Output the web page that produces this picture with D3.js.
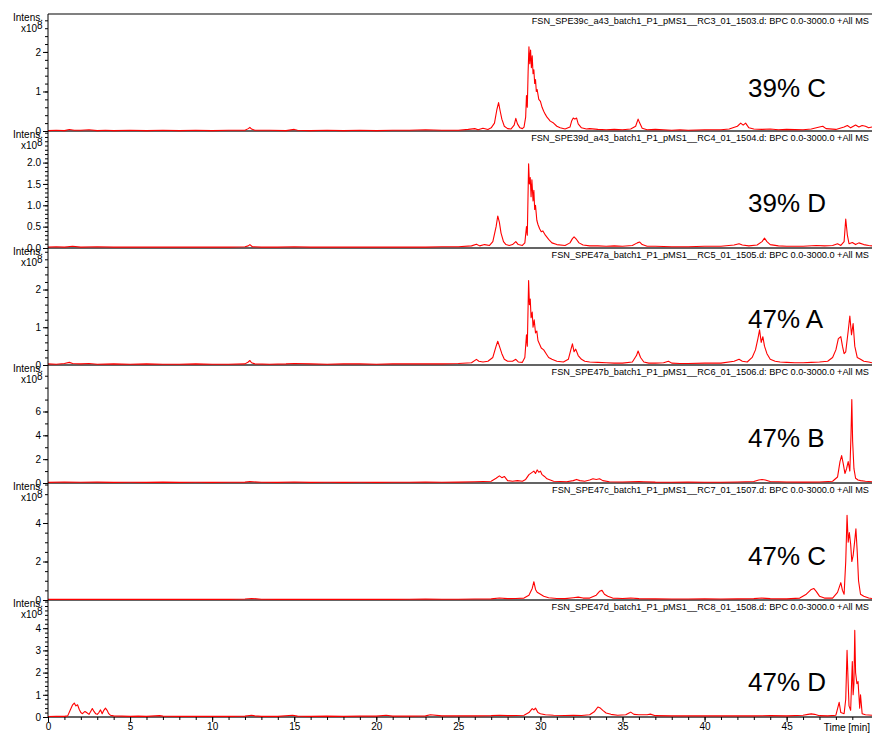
<!DOCTYPE html>
<html>
<head>
<meta charset="utf-8">
<script src="https://cdn.jsdelivr.net/npm/d3@7"></script>
<style>
  html, body { margin: 0; padding: 0; background: #fff; }
  svg { display: block; font-family: "Liberation Sans", Arial, sans-serif; }
</style>
</head>
<body>
<svg id="chart" width="872" height="733"></svg>
<script>
// ---------- DATA ----------
const fileTitles = [
  "FSN_SPE39c_a43_batch1_P1_pMS1__RC3_01_1503.d: BPC 0.0-3000.0 +All MS",
  "FSN_SPE39d_a43_batch1_P1_pMS1__RC4_01_1504.d: BPC 0.0-3000.0 +All MS",
  "FSN_SPE47a_batch1_P1_pMS1__RC5_01_1505.d: BPC 0.0-3000.0 +All MS",
  "FSN_SPE47b_batch1_P1_pMS1__RC6_01_1506.d: BPC 0.0-3000.0 +All MS",
  "FSN_SPE47c_batch1_P1_pMS1__RC7_01_1507.d: BPC 0.0-3000.0 +All MS",
  "FSN_SPE47d_batch1_P1_pMS1__RC8_01_1508.d: BPC 0.0-3000.0 +All MS"
];
const sampleLabels = ["39% C", "39% D", "47% A", "47% B", "47% C", "47% D"];
// intensity axis (x10^8)
const yMax = [2.96, 2.74, 3.1, 9.9, 6.08, 5.27];
const yMajorTicks = [[0,1,2],[0,0.5,1.0,1.5,2.0],[0,1,2],[0,2,4,6],[0,2,4],[0,1,2,3,4]];
const yMinorStep = [0.2, 0.1, 0.2, 1, 0.5, 0.2];
const xTicksMajor = [0,5,10,15,20,25,30,35,40,45];
const timeMax = 50.2;

// traces: [time (min), intensity (x10^8)]
const trace39C = [[0,0.01],[0.5,0.02],[1,0.01],[1.3,0.04],[1.6,0.02],[2,0.02],[2.5,0.03],[3,0.01],[3.5,0.02],[4,0.01],[5,0.02],[6,0.01],[7,0.02],[8,0.01],[9,0.02],[10,0.01],[11,0.02],[12,0.02],[12.2,0.06],[12.3,0.09],[12.4,0.05],[12.6,0.02],[13.5,0.02],[14.5,0.01],[15,0.04],[15.2,0.02],[16,0.01],[17,0.02],[18,0.01],[19,0.02],[20,0.01],[21,0.02],[22,0.02],[23,0.03],[24,0.02],[25,0.02],[25.6,0.04],[26,0.06],[26.2,0.03],[26.5,0.07],[26.8,0.04],[27,0.08],[27.2,0.2],[27.35,0.55],[27.45,0.72],[27.55,0.5],[27.65,0.3],[27.8,0.12],[28,0.06],[28.2,0.05],[28.4,0.15],[28.5,0.32],[28.6,0.18],[28.75,0.08],[28.9,0.06],[29,0.1],[29.1,0.35],[29.15,0.9],[29.2,0.6],[29.25,1.5],[29.3,2.13],[29.35,1.7],[29.4,2.05],[29.45,1.6],[29.5,1.9],[29.55,1.45],[29.6,1.55],[29.65,1.2],[29.7,1.3],[29.75,1.0],[29.8,1.05],[29.9,0.8],[30,0.75],[30.1,0.6],[30.2,0.5],[30.3,0.42],[30.4,0.35],[30.5,0.3],[30.6,0.25],[30.8,0.2],[31,0.12],[31.2,0.08],[31.5,0.05],[31.8,0.1],[31.9,0.25],[32,0.33],[32.1,0.3],[32.2,0.33],[32.3,0.18],[32.5,0.08],[32.8,0.05],[33,0.06],[33.5,0.04],[34,0.03],[34.5,0.04],[35,0.03],[35.5,0.05],[35.8,0.12],[35.95,0.3],[36.05,0.2],[36.2,0.07],[36.5,0.03],[37,0.04],[37.5,0.03],[38,0.02],[38.5,0.03],[39,0.02],[40,0.03],[41,0.03],[41.5,0.05],[42,0.12],[42.2,0.2],[42.35,0.15],[42.5,0.2],[42.7,0.08],[43,0.05],[43.5,0.04],[44,0.05],[44.5,0.03],[45,0.04],[46,0.03],[46.5,0.05],[47,0.1],[47.2,0.12],[47.4,0.06],[48,0.04],[48.5,0.1],[48.7,0.14],[48.9,0.08],[49.2,0.15],[49.4,0.1],[49.6,0.14],[49.8,0.12],[50,0.08],[50.2,0.1]];

const trace39D = [[0,0.02],[0.5,0.03],[1,0.02],[1.5,0.04],[2,0.02],[3,0.03],[4,0.02],[5,0.02],[6,0.02],[7,0.02],[8,0.02],[9,0.02],[10,0.02],[11,0.02],[12,0.03],[12.2,0.05],[12.3,0.08],[12.45,0.03],[13,0.02],[14,0.02],[15,0.03],[16,0.02],[17,0.02],[18,0.02],[19,0.02],[20,0.02],[21,0.02],[22,0.02],[23,0.02],[24,0.03],[25,0.03],[25.8,0.05],[26.1,0.09],[26.3,0.05],[26.6,0.08],[26.9,0.06],[27.1,0.15],[27.3,0.5],[27.4,0.75],[27.5,0.6],[27.6,0.35],[27.75,0.15],[27.9,0.08],[28.1,0.06],[28.3,0.08],[28.5,0.15],[28.65,0.08],[28.9,0.06],[29.05,0.12],[29.15,0.5],[29.2,0.3],[29.28,1.97],[29.33,1.5],[29.38,1.65],[29.43,1.2],[29.48,1.6],[29.55,1.1],[29.6,1.35],[29.65,0.9],[29.7,1.0],[29.78,0.65],[29.85,0.55],[29.95,0.45],[30.05,0.38],[30.15,0.4],[30.3,0.3],[30.5,0.2],[30.7,0.12],[31,0.08],[31.5,0.06],[31.8,0.12],[31.95,0.22],[32.05,0.26],[32.2,0.2],[32.35,0.12],[32.6,0.07],[33,0.05],[33.5,0.05],[34,0.04],[34.5,0.05],[35,0.04],[35.6,0.06],[35.9,0.12],[36.05,0.14],[36.2,0.08],[36.5,0.04],[37,0.04],[38,0.03],[39,0.03],[40,0.04],[41,0.04],[41.8,0.07],[42.1,0.1],[42.3,0.07],[42.7,0.05],[43.2,0.07],[43.5,0.15],[43.65,0.23],[43.8,0.15],[44,0.08],[44.5,0.05],[45,0.04],[46,0.04],[46.8,0.06],[47.3,0.05],[47.8,0.06],[48.1,0.1],[48.3,0.06],[48.5,0.15],[48.6,0.68],[48.7,0.3],[48.8,0.1],[49,0.13],[49.2,0.08],[49.4,0.12],[49.7,0.08],[50,0.06],[50.2,0.05]];

const trace47A = [[0,0.03],[0.5,0.02],[1,0.04],[1.3,0.07],[1.5,0.04],[2,0.03],[2.5,0.04],[3,0.02],[4,0.03],[5,0.02],[6,0.03],[7,0.02],[8,0.02],[9,0.03],[10,0.02],[11,0.02],[12,0.03],[12.2,0.08],[12.3,0.12],[12.4,0.06],[12.6,0.03],[13.5,0.02],[14.5,0.03],[15,0.04],[16,0.03],[17,0.02],[18,0.03],[19,0.03],[20,0.02],[21,0.03],[22,0.03],[23,0.03],[24,0.03],[25,0.04],[25.8,0.06],[26.1,0.15],[26.25,0.1],[26.5,0.08],[26.8,0.1],[27.1,0.2],[27.3,0.5],[27.4,0.63],[27.5,0.5],[27.65,0.3],[27.8,0.15],[28,0.1],[28.3,0.1],[28.5,0.15],[28.65,0.08],[28.9,0.07],[29.05,0.2],[29.15,0.8],[29.2,0.5],[29.28,2.24],[29.33,1.6],[29.38,1.75],[29.43,1.25],[29.5,1.4],[29.55,1.0],[29.62,1.2],[29.7,0.85],[29.78,0.9],[29.85,0.65],[29.95,0.55],[30.05,0.45],[30.2,0.4],[30.35,0.3],[30.5,0.2],[30.7,0.15],[31,0.1],[31.4,0.08],[31.7,0.15],[31.85,0.4],[31.95,0.56],[32.05,0.35],[32.15,0.42],[32.3,0.25],[32.5,0.15],[32.7,0.1],[33,0.08],[33.5,0.07],[34,0.06],[34.5,0.05],[35,0.05],[35.6,0.08],[35.85,0.25],[35.95,0.37],[36.1,0.2],[36.3,0.08],[36.6,0.05],[37,0.05],[37.5,0.06],[37.8,0.1],[38,0.05],[38.5,0.04],[39,0.04],[40,0.05],[41,0.05],[41.8,0.1],[42.1,0.15],[42.3,0.1],[42.6,0.08],[42.9,0.2],[43.1,0.4],[43.25,0.7],[43.35,0.93],[43.45,0.6],[43.55,0.75],[43.65,0.5],[43.8,0.3],[44,0.15],[44.3,0.1],[44.6,0.08],[45,0.07],[45.5,0.06],[46,0.06],[46.5,0.07],[47,0.08],[47.5,0.1],[47.8,0.2],[48,0.4],[48.15,0.7],[48.3,0.75],[48.4,0.5],[48.5,0.3],[48.6,0.35],[48.75,0.9],[48.85,1.3],[48.95,0.8],[49.05,1.1],[49.15,0.5],[49.3,0.2],[49.5,0.15],[49.7,0.1],[50,0.08],[50.2,0.06]];

const trace47B = [[0,0.05],[1,0.08],[2,0.06],[3,0.07],[4,0.05],[5,0.06],[6,0.05],[7,0.07],[8,0.05],[9,0.06],[10,0.05],[11,0.06],[12,0.07],[12.3,0.12],[13,0.06],[14,0.05],[15,0.08],[16,0.05],[17,0.06],[18,0.05],[19,0.06],[20,0.05],[21,0.06],[22,0.06],[23,0.07],[24,0.06],[25,0.07],[26,0.1],[26.5,0.12],[27,0.15],[27.3,0.4],[27.5,0.6],[27.65,0.45],[27.8,0.55],[28,0.2],[28.3,0.15],[28.6,0.2],[28.9,0.15],[29.1,0.3],[29.3,0.7],[29.45,0.85],[29.6,1.0],[29.7,0.8],[29.8,1.1],[29.9,0.9],[30,1.0],[30.1,0.7],[30.25,0.55],[30.4,0.35],[30.6,0.25],[30.8,0.15],[31.2,0.12],[31.6,0.1],[32,0.2],[32.2,0.3],[32.4,0.2],[32.7,0.15],[33,0.25],[33.2,0.35],[33.4,0.3],[33.6,0.35],[33.8,0.2],[34.2,0.1],[35,0.08],[36,0.12],[36.3,0.1],[37,0.07],[38,0.06],[39,0.07],[40,0.06],[41,0.06],[42,0.08],[43,0.12],[43.3,0.25],[43.5,0.3],[43.7,0.25],[44,0.12],[45,0.08],[46,0.07],[47,0.08],[47.8,0.15],[48.1,0.5],[48.25,1.8],[48.35,2.3],[48.45,1.6],[48.55,0.8],[48.65,1.2],[48.75,1.8],[48.85,1.0],[48.92,4.0],[48.97,7.0],[49.02,3.5],[49.1,1.2],[49.2,0.4],[49.35,0.25],[49.5,0.2],[49.8,0.15],[50.2,0.1]];

const trace47C = [[0,0.03],[1,0.04],[2,0.03],[3,0.04],[4,0.03],[5,0.03],[6,0.04],[7,0.03],[8,0.03],[9,0.03],[10,0.04],[11,0.03],[12,0.05],[12.4,0.08],[13,0.04],[14,0.03],[15,0.04],[16,0.03],[17,0.03],[18,0.04],[19,0.03],[20,0.04],[21,0.03],[22,0.04],[23,0.05],[24,0.04],[25,0.04],[26,0.05],[27,0.06],[27.5,0.1],[28,0.07],[28.5,0.08],[29,0.1],[29.3,0.25],[29.5,0.6],[29.6,0.95],[29.7,0.55],[29.8,0.4],[30,0.3],[30.2,0.2],[30.5,0.12],[31,0.08],[31.5,0.07],[32,0.12],[32.3,0.15],[32.6,0.1],[33,0.1],[33.4,0.25],[33.6,0.45],[33.75,0.5],[33.9,0.3],[34.1,0.2],[34.4,0.1],[35,0.08],[35.5,0.1],[36,0.07],[37,0.06],[38,0.05],[39,0.05],[40,0.06],[41,0.05],[42,0.06],[43,0.07],[43.5,0.1],[44,0.07],[45,0.06],[45.8,0.1],[46.2,0.3],[46.5,0.55],[46.65,0.6],[46.8,0.45],[47,0.2],[47.3,0.1],[47.8,0.1],[48.1,0.4],[48.3,0.9],[48.4,0.5],[48.5,0.3],[48.6,2.0],[48.68,4.4],[48.75,3.0],[48.82,3.5],[48.9,2.9],[48.97,2.0],[49.05,2.3],[49.15,3.1],[49.22,3.7],[49.3,2.5],[49.38,1.0],[49.5,0.3],[49.7,0.2],[50,0.1],[50.2,0.08]];

const trace47D = [[0,0.02],[0.5,0.03],[1,0.03],[1.2,0.05],[1.35,0.3],[1.5,0.55],[1.6,0.63],[1.7,0.5],[1.8,0.55],[1.9,0.35],[2,0.2],[2.1,0.15],[2.25,0.25],[2.35,0.2],[2.5,0.12],[2.6,0.25],[2.7,0.38],[2.8,0.25],[2.9,0.15],[3,0.12],[3.1,0.2],[3.2,0.32],[3.3,0.15],[3.4,0.3],[3.5,0.4],[3.6,0.3],[3.7,0.15],[3.8,0.08],[4,0.05],[4.5,0.04],[5,0.03],[5.5,0.04],[6,0.03],[6.8,0.06],[7,0.04],[8,0.03],[9,0.03],[10,0.03],[11,0.03],[12,0.04],[12.4,0.08],[12.6,0.05],[13,0.03],[14,0.03],[14.9,0.08],[15.2,0.04],[16,0.03],[17,0.04],[18,0.03],[19,0.04],[20,0.04],[20.6,0.08],[21,0.04],[22,0.04],[23,0.05],[23.3,0.1],[24,0.05],[25,0.05],[26,0.05],[27,0.06],[27.5,0.08],[28,0.06],[29,0.08],[29.3,0.2],[29.5,0.38],[29.6,0.32],[29.7,0.4],[29.85,0.2],[30,0.15],[30.3,0.1],[30.8,0.08],[31.5,0.07],[32,0.08],[32.5,0.07],[33,0.1],[33.3,0.25],[33.5,0.45],[33.65,0.4],[33.8,0.3],[34,0.18],[34.3,0.12],[34.7,0.08],[35.2,0.1],[35.4,0.18],[35.5,0.22],[35.7,0.12],[36,0.1],[36.5,0.1],[36.7,0.13],[37,0.06],[38,0.05],[39,0.05],[40,0.05],[41,0.05],[42,0.05],[43,0.05],[44,0.06],[45,0.05],[46,0.08],[46.3,0.12],[46.5,0.14],[46.7,0.12],[47,0.06],[47.5,0.05],[48,0.08],[48.2,0.66],[48.3,0.2],[48.5,0.15],[48.6,0.8],[48.68,3.0],[48.75,1.5],[48.8,0.5],[48.9,0.3],[49,2.5],[49.05,1.0],[49.1,1.5],[49.15,3.9],[49.2,2.0],[49.28,1.5],[49.35,1.6],[49.45,0.4],[49.5,1.0],[49.6,0.15],[49.8,0.1],[50.2,0.08]];

const traces = [trace39C, trace39D, trace47A, trace47B, trace47C, trace47D];

// ---------- LAYOUT ----------
const W = 872, H = 733;
const axisX = 48;
const panelTops = [14, 131, 248, 365, 483, 600, 717];
const labelBaselines = [97, 212, 328, 447, 565, 691];

const svg = d3.select("#chart");
const x = d3.scaleLinear().domain([0, timeMax]).range([axisX, W]);

const line = d3.line().x(d => x(d[0]));

// top gray border
svg.append("line").attr("x1", axisX).attr("x2", W).attr("y1", panelTops[0]).attr("y2", panelTops[0])
  .attr("stroke", "#808080").attr("stroke-width", 2);

traces.forEach((tr, i) => {
  const top = panelTops[i], bottom = panelTops[i + 1];
  const y = d3.scaleLinear().domain([0, yMax[i]]).range([bottom, top]);
  const g = svg.append("g");

  // minor ticks
  const minors = d3.range(0, yMax[i] + 1e-9, yMinorStep[i]).filter(v => y(v) >= top + 1);
  g.append("g").attr("transform", `translate(${axisX},0)`)
    .call(d3.axisLeft(y).tickValues(minors).tickSize(3).tickFormat(""))
    .call(s => s.select(".domain").remove())
    .call(s => s.selectAll("line").attr("stroke", "#000"));

  // major ticks
  const fmt = i === 1 ? d3.format(".1f") : d3.format("d");
  g.append("g").attr("transform", `translate(${axisX},0)`)
    .call(d3.axisLeft(y).tickValues(yMajorTicks[i]).tickSize(5).tickPadding(2).tickFormat(fmt))
    .call(s => s.select(".domain").remove())
    .call(s => s.selectAll("line").attr("stroke", "#000"))
    .call(s => s.selectAll("text").attr("font-size", 10).attr("fill", "#000")
      .attr("font-family", "Liberation Sans, Arial, sans-serif"));

  // zero / baseline line
  g.append("line").attr("x1", axisX).attr("x2", W).attr("y1", y(0)).attr("y2", y(0))
    .attr("stroke", "#303030").attr("stroke-width", 1.5);

  // trace
  g.append("path").datum(tr)
    .attr("d", line.y(d => y(d[1])))
    .attr("fill", "none").attr("stroke", "#ff0000").attr("stroke-width", 1.1)
    .attr("stroke-linejoin", "round");

  // file title
  g.append("text").attr("x", W - 3).attr("y", top + 10).attr("text-anchor", "end")
    .attr("font-size", 9.2).attr("fill", "#000").text(fileTitles[i]);

  // Intens. label
  g.append("text").attr("x", 43).attr("y", top + 7).attr("text-anchor", "end")
    .attr("font-size", 10).attr("fill", "#000").text("Intens.");
  const xt = g.append("text").attr("x", 37).attr("y", top + 18).attr("text-anchor", "end")
    .attr("font-size", 10).attr("fill", "#000").text("x10");
  g.append("text").attr("x", 37).attr("y", top + 15)
    .attr("font-size", 10).attr("fill", "#000").text("8");

  // sample label
  g.append("text").attr("x", 748).attr("y", labelBaselines[i])
    .attr("font-size", 26).attr("fill", "#000").text(sampleLabels[i]);
});

// y-axis line
svg.append("line").attr("x1", axisX).attr("x2", axisX).attr("y1", panelTops[0]).attr("y2", panelTops[6])
  .attr("stroke", "#000").attr("stroke-width", 1);

// x axis
const xMinor = d3.range(0, 50, 1);
svg.append("g").attr("transform", `translate(0,${panelTops[6]})`)
  .call(d3.axisBottom(x).tickValues(xMinor).tickSize(3).tickFormat(""))
  .call(s => s.select(".domain").remove())
  .call(s => s.selectAll("line").attr("stroke", "#000"));
svg.append("g").attr("transform", `translate(0,${panelTops[6]})`)
  .call(d3.axisBottom(x).tickValues(xTicksMajor).tickSize(5).tickPadding(1).tickFormat(d3.format("d")))
  .call(s => s.select(".domain").remove())
  .call(s => s.selectAll("line").attr("stroke", "#000"))
  .call(s => s.selectAll("text").attr("font-size", 10).attr("fill", "#000")
    .attr("font-family", "Liberation Sans, Arial, sans-serif"));

svg.append("text").attr("x", W - 2).attr("y", 731).attr("text-anchor", "end")
  .attr("font-size", 10).attr("fill", "#000").text("Time [min]");
</script>
</body>
</html>
